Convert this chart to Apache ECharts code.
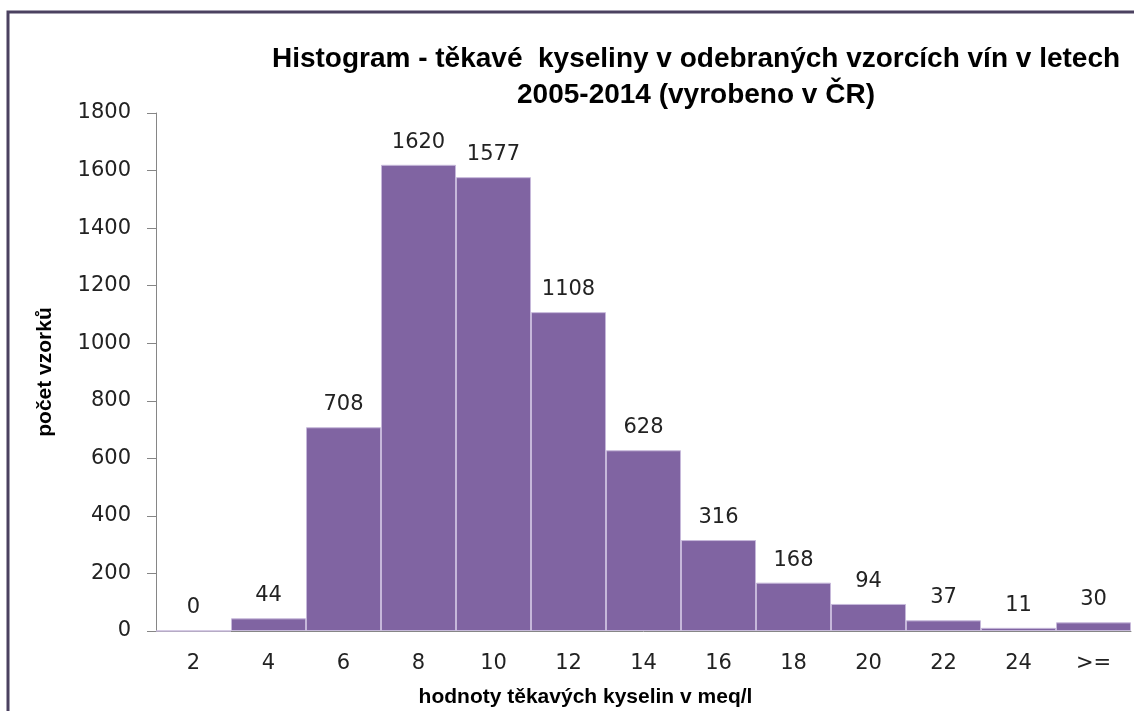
<!DOCTYPE html>
<html>
<head>
<meta charset="utf-8">
<script src="https://cdn.jsdelivr.net/npm/echarts@6/dist/echarts.min.js"></script>
<style>
  html, body { margin: 0; padding: 0; background: #fff; }
  #main { width: 1134px; height: 711px; }
</style>
</head>
<body>
<div id="main"></div>
<script>
// hodnoty histogramu
var categories = ["2", "4", "6", "8", "10", "12", "14", "16", "18", "20", "22", "24", ">="];
var counts = [0, 44, 708, 1620, 1577, 1108, 628, 316, 168, 94, 37, 11, 30];
var yTicks = { min: 0, max: 1800, interval: 200 };

var numFont = "'DejaVu Sans', 'Liberation Sans', sans-serif";
var boldFont = "'Liberation Sans', sans-serif";

var myChart = echarts.init(document.getElementById("main"));
var option = {
  animation: false,
  backgroundColor: "#fff",
  title: {
    text: "Histogram - těkavé  kyseliny v odebraných vzorcích vín v letech\n2005-2014 (vyrobeno v ČR)",
    left: 691,
    top: 36,
    textAlign: "center",
    textStyle: {
      fontFamily: boldFont,
      fontWeight: "bold",
      fontSize: 28,
      lineHeight: 36,
      color: "#000"
    }
  },
  // ramecek grafu
  graphic: [
    {
      type: "rect",
      shape: { x: 8, y: 12, width: 1200, height: 800 },
      style: { fill: "none", stroke: "#4b4160", lineWidth: 3 },
      silent: true
    }
  ],
  grid: { left: 156, right: 3, top: 113, bottom: 80, outerBoundsMode: "none", containLabel: false },
  xAxis: {
    type: "category",
    data: categories,
    name: "hodnoty těkavých kyselin v meq/l",
    nameLocation: "middle",
    nameGap: 56,
    nameTextStyle: {
      fontFamily: boldFont,
      fontWeight: "bold",
      fontSize: 21,
      color: "#000",
      padding: [0, 116, 0, 0]
    },
    axisLine: { lineStyle: { color: "#868686", width: 1 } },
    axisTick: { show: false },
    axisLabel: { fontFamily: numFont, fontSize: 21, color: "#222", margin: 22 }
  },
  yAxis: {
    type: "value",
    min: yTicks.min,
    max: yTicks.max,
    interval: yTicks.interval,
    name: "počet vzorků",
    nameLocation: "middle",
    nameGap: 100,
    nameTextStyle: { fontFamily: boldFont, fontWeight: "bold", fontSize: 21, color: "#000" },
    axisLine: { show: true, lineStyle: { color: "#868686", width: 1 } },
    axisTick: { show: true, length: 9, lineStyle: { color: "#868686" } },
    axisLabel: {
      fontFamily: numFont,
      fontSize: 21,
      color: "#222",
      margin: 25,
      formatter: function (v) { return String(v); }
    },
    splitLine: { show: false }
  },
  series: [
    {
      type: "bar",
      data: counts,
      barCategoryGap: "0%",
      itemStyle: {
        color: "#8064A2",
        borderColor: "#c6b8da",
        borderWidth: 1
      },
      label: {
        show: true,
        position: "top",
        distance: 12,
        fontFamily: numFont,
        fontSize: 21,
        color: "#222"
      }
    }
  ]
};
myChart.setOption(option);
</script>
</body>
</html>
